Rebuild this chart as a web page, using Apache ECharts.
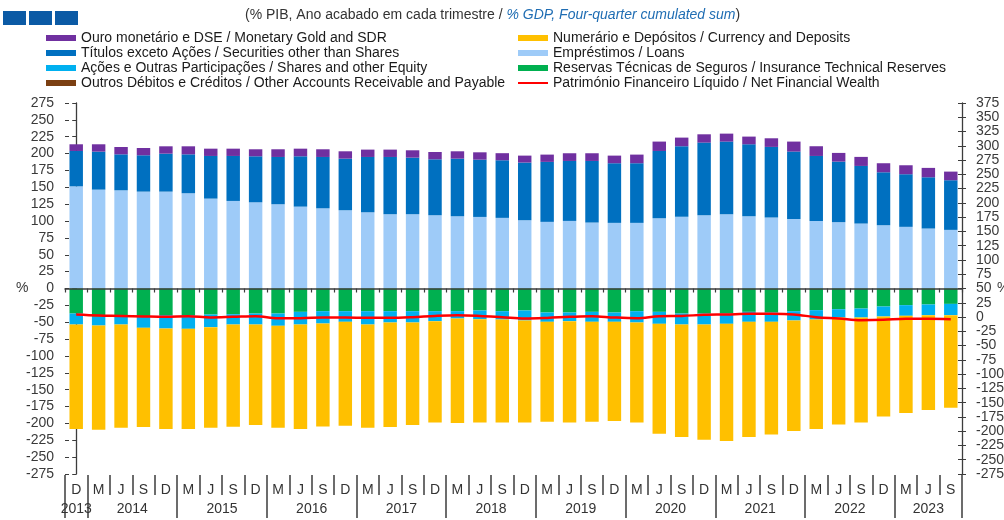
<!DOCTYPE html>
<html>
<head>
<meta charset="utf-8">
<script src="https://cdn.jsdelivr.net/npm/echarts@6/dist/echarts.min.js"></script>
<style>
  html, body { margin: 0; padding: 0; background: #ffffff; }
  #chart { width: 1004px; height: 520px; }
</style>
</head>
<body>
<div id="chart"></div>
<script>
// Quarter letters and the year each quarter belongs to
const quarterLabels = ['D',
  'M','J','S','D', 'M','J','S','D', 'M','J','S','D', 'M','J','S','D', 'M','J','S','D',
  'M','J','S','D', 'M','J','S','D', 'M','J','S','D', 'M','J','S','D', 'M','J','S'];
const quarterYears = [2013,
  2014,2014,2014,2014, 2015,2015,2015,2015, 2016,2016,2016,2016, 2017,2017,2017,2017,
  2018,2018,2018,2018, 2019,2019,2019,2019, 2020,2020,2020,2020, 2021,2021,2021,2021,
  2022,2022,2022,2022, 2023,2023,2023];

// Assets (% GDP)
const loans = [151.5,146.6,145.6,143.6,143.6,141.2,133.3,129.8,127.8,124.9,121.4,118.9,116.0,113.0,110.1,110.1,108.6,107.1,106.1,104.7,
  101.2,98.8,100.2,97.8,97.3,97.3,104.2,106.2,108.6,110.1,107.2,105.2,103.2,100.2,98.3,96.3,93.8,91.4,88.9,86.9];
const securities = [52.4,56.3,53.3,53.9,56.3,57.7,63.2,66.7,68.2,70.1,74.6,76.1,76.5,82.0,84.9,83.9,82.9,85.4,84.9,85.4,
  85.5,88.9,88.9,91.3,88.4,88.4,99.7,104.7,107.7,107.7,106.6,104.7,99.8,96.3,89.8,85.4,78.5,78.0,76.0,73.6];
const monetaryGold = [9.9,10.9,10.9,10.8,10.9,11.9,10.8,10.8,10.4,11.4,11.3,11.4,10.9,10.9,10.9,10.9,10.9,10.9,10.9,10.5,
  10.3,10.8,11.4,11.4,11.3,12.8,13.9,12.8,12.3,11.8,11.4,12.8,14.8,14.4,12.9,13.4,13.4,13.3,13.9,12.8];

// Liabilities (% GDP, negative side)
const insuranceReserves = [-37.1,-42.0,-42.0,-42.0,-39.5,-39.5,-38.6,-38.1,-37.1,-37.1,-34.6,-33.6,-33.6,-33.6,-33.6,-33.6,-33.6,-33.6,-32.6,-33.6,
  -32.6,-35.6,-35.6,-34.6,-35.6,-33.6,-34.6,-37.1,-37.1,-37.1,-34.6,-35.6,-33.6,-32.1,-30.7,-29.7,-26.7,-24.7,-23.7,-22.8];
const sharesEquity = [-16.3,-12.9,-11.4,-16.3,-19.8,-20.3,-18.7,-15.3,-16.3,-18.2,-18.8,-18.3,-15.8,-19.8,-16.8,-16.8,-14.8,-10.9,-12.9,-12.4,
  -14.8,-13.8,-12.8,-14.8,-13.8,-16.8,-17.8,-16.3,-16.3,-15.3,-14.8,-13.8,-13.8,-13.9,-12.3,-13.3,-14.8,-15.8,-15.8,-16.7];
const currencyDeposits = [-155.0,-154.5,-153.1,-147.2,-149.1,-148.6,-149.2,-151.6,-149.1,-151.2,-155.0,-152.6,-154.1,-153.1,-155.1,-152.1,-150.2,-155.0,-153.1,-152.6,
  -151.2,-148.2,-150.2,-148.2,-147.2,-148.2,-162.9,-166.9,-170.8,-173.8,-170.9,-166.9,-164.0,-162.4,-158.5,-155.6,-148.2,-144.2,-140.8,-137.3];
const otherAccounts = [0,0,0,0,0,0,0,0,0,0,0,0,0,0,0,0,0,0,0,0,0,0,0,0,0,0,0,0,0,0,0,0,0,0,0,0,0,0,0,0];

// Net financial wealth (% GDP, right axis)
const netFinancialWealth = [4.5,2.7,2.0,1.0,0.3,1.5,-0.8,0.3,1.5,-2.0,-2.0,-0.8,-0.8,-1.4,-1.4,-0.2,2.0,3.2,2.0,-0.2,
  -2.5,-1.5,0.3,1.5,-0.8,-2.0,1.5,2.0,3.8,4.5,5.6,5.6,4.5,-0.2,-2.5,-5.5,-4.9,-3.2,-3.2,-3.8];

const NAMES = {
  gold: 'Ouro monetário e DSE / Monetary Gold and SDR',
  securities: 'Títulos exceto Ações / Securities other than Shares',
  shares: 'Ações e Outras Participações / Shares and other Equity',
  other: 'Outros Débitos e Créditos / Other Accounts Receivable and Payable',
  currency: 'Numerário e Depósitos / Currency and Deposits',
  loans: 'Empréstimos / Loans',
  insurance: 'Reservas Técnicas de Seguros / Insurance Technical Reserves',
  net: 'Património Financeiro Líquido / Net Financial Wealth'
};

// Year groups along the category scale: centre for the label, edges for separators
const yearGroups = [];
quarterYears.forEach((y, i) => {
  const g = yearGroups[yearGroups.length - 1];
  if (g && g.year === y) g.end = i; else yearGroups.push({ year: y, start: i, end: i });
});
const yearCenters = yearGroups.map(g => (g.start + g.end) / 2);
const yearEdges = yearGroups.map(g => g.start - 0.5).concat([quarterYears.length - 0.5]);
const yearAt = v => { const g = yearGroups.find(g => Math.abs((g.start + g.end) / 2 - v) < 0.01); return g ? String(g.year) : ''; };

const FONT = 'Liberation Sans, Arial, sans-serif';
const AXIS = '#3c3c3c';

const chart = echarts.init(document.getElementById('chart'), null, { renderer: 'canvas' });

const barBase = { type: 'bar', stack: 'total', xAxisIndex: 0, yAxisIndex: 0, barWidth: '60%' };

chart.setOption({
  animation: false,
  backgroundColor: '#ffffff',
  textStyle: { fontFamily: FONT },
  title: {
    left: 240, top: 3,
    text: '{a|(% PIB, Ano acabado em cada trimestre / }{b|% GDP, Four-quarter cumulated sum}{a|)}',
    textStyle: {
      fontWeight: 'normal',
      rich: {
        a: { fontFamily: FONT, fontSize: 14, fontWeight: 'normal', color: '#333333' },
        b: { fontFamily: FONT, fontSize: 14, fontWeight: 'normal', color: '#1f6db3', fontStyle: 'italic' }
      }
    }
  },
  legend: [
    {
      left: 46, top: 31, padding: 0, orient: 'vertical', itemGap: 1, itemWidth: 30, itemHeight: 6,
      icon: 'rect', textStyle: { fontFamily: FONT, fontSize: 14, color: '#1a1a1a' },
      data: [NAMES.gold, NAMES.securities, NAMES.shares, NAMES.other]
    },
    {
      left: 517, top: 31, padding: 0, orient: 'vertical', itemGap: 1, itemWidth: 30, itemHeight: 6,
      textStyle: { fontFamily: FONT, fontSize: 14, color: '#1a1a1a' },
      data: [
        { name: NAMES.currency, icon: 'rect' },
        { name: NAMES.loans, icon: 'rect' },
        { name: NAMES.insurance, icon: 'rect' },
        { name: NAMES.net, itemStyle: { opacity: 0 } }
      ]
    }
  ],
  grid: { left: 65, right: 42, top: 103, bottom: 46, containLabel: false, outerBoundsMode: 'none' },
  xAxis: [
    {
      type: 'category', data: quarterLabels, position: 'bottom', z: 10,
      axisLine: { show: true, onZero: true, onZeroAxisIndex: 0, lineStyle: { color: AXIS, width: 1.5 } },
      axisTick: { show: true, length: 4, lineStyle: { color: AXIS, width: 1.2 } },
      axisLabel: { show: false }, splitLine: { show: false }
    },
    {
      type: 'category', data: quarterLabels, position: 'bottom', offset: 1,
      axisLine: { show: false, onZero: false },
      axisTick: { show: true, length: 20, lineStyle: { color: AXIS, width: 1.5 } },
      axisLabel: { interval: 0, margin: 8, fontFamily: FONT, fontSize: 14, color: '#333333' },
      splitLine: { show: false }
    },
    {
      type: 'value', min: -0.5, max: quarterYears.length - 0.5, position: 'bottom', offset: 1,
      axisLine: { show: false, onZero: false },
      axisTick: { show: true, length: 43, customValues: yearEdges, lineStyle: { color: AXIS, width: 1.5 } },
      axisLabel: { customValues: yearCenters, formatter: yearAt, margin: 27, fontFamily: FONT, fontSize: 14, color: '#333333' },
      splitLine: { show: false }
    }
  ],
  yAxis: [
    {
      type: 'value', position: 'left', min: -275, max: 275, interval: 25,
      axisLine: { show: true, lineStyle: { color: AXIS, width: 1.3 } },
      axisTick: { show: true, length: 4, lineStyle: { color: AXIS } },
      axisLabel: { margin: 11, fontFamily: FONT, fontSize: 14, color: '#3a3a3a' },
      splitLine: { show: false }
    },
    {
      type: 'value', position: 'right', min: -275, max: 375, interval: 25,
      axisLine: { show: true, lineStyle: { color: AXIS, width: 1.3 } },
      axisTick: { show: true, length: 4, lineStyle: { color: AXIS } },
      axisLabel: { margin: 14, fontFamily: FONT, fontSize: 14, color: '#3a3a3a' },
      splitLine: { show: false }
    },
    {
      type: 'value', position: 'left', min: -275, max: 275, interval: 25,
      axisLine: { show: false }, axisLabel: { show: false }, splitLine: { show: false },
      axisTick: { show: true, inside: true, length: 4, lineStyle: { color: AXIS } }
    },
    {
      type: 'value', position: 'right', min: -275, max: 375, interval: 25,
      axisLine: { show: false }, axisLabel: { show: false }, splitLine: { show: false },
      axisTick: { show: true, inside: true, length: 4, lineStyle: { color: AXIS } }
    }
  ],
  series: [
    Object.assign({ name: NAMES.loans, data: loans, itemStyle: { color: '#9ecbf8' } }, barBase),
    Object.assign({ name: NAMES.securities, data: securities, itemStyle: { color: '#0070c0' } }, barBase),
    Object.assign({ name: NAMES.gold, data: monetaryGold, itemStyle: { color: '#7030a0' } }, barBase),
    Object.assign({ name: NAMES.insurance, data: insuranceReserves, itemStyle: { color: '#00b050' } }, barBase),
    Object.assign({ name: NAMES.shares, data: sharesEquity, itemStyle: { color: '#00b0f0' } }, barBase),
    Object.assign({ name: NAMES.currency, data: currencyDeposits, itemStyle: { color: '#ffc000' } }, barBase),
    Object.assign({ name: NAMES.other, data: otherAccounts, itemStyle: { color: '#7b3f12' } }, barBase),
    {
      name: NAMES.net, type: 'line', xAxisIndex: 0, yAxisIndex: 1, data: netFinancialWealth,
      smooth: 0.35, symbol: 'none', showSymbol: false, z: 5,
      lineStyle: { color: '#ff0000', width: 2.5 }, itemStyle: { color: '#ff0000' }
    }
  ],
  graphic: [
    { type: 'rect', left: 3, top: 11, shape: { width: 23, height: 14 }, style: { fill: '#0b5aa5' } },
    { type: 'rect', left: 29, top: 11, shape: { width: 23, height: 14 }, style: { fill: '#0b5aa5' } },
    { type: 'rect', left: 55, top: 11, shape: { width: 23, height: 14 }, style: { fill: '#0b5aa5' } },
    { type: 'text', left: 16, top: 281, style: { text: '%', fontFamily: FONT, fontSize: 14, fill: '#3a3a3a' } },
    { type: 'text', left: 997, top: 281, style: { text: '%', fontFamily: FONT, fontSize: 14, fill: '#3a3a3a' } }
  ]
});
</script>
</body>
</html>
